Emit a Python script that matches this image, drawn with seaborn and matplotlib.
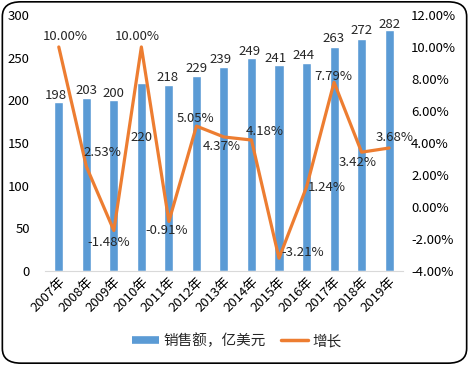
import numpy as np
import pandas as pd
import matplotlib.pyplot as plt
import seaborn as sns
from matplotlib.patches import FancyBboxPatch
from matplotlib.lines import Line2D

# data
years = ['2007年', '2008年', '2009年', '2010年', '2011年', '2012年', '2013年',
         '2014年', '2015年', '2016年', '2017年', '2018年', '2019年']
sales = [198, 203, 200, 220, 218, 229, 239, 249, 241, 244, 263, 272, 282]
growth = [10.00, 2.53, -1.48, 10.00, -0.91, 5.05, 4.37, 4.18, -3.21, 1.24, 7.79, 3.42, 3.68]

# label nudges in pixels (dx, dy) to mimic the original placement
bar_off = [(-3, 6), (0, 7), (0, 7), (0, -54), (-1, 7), (0, 7), (-3, 7),
           (-2, 7), (-3, 7), (-3, 7), (-1, 8), (0, 8), (0, 6)]
line_off = [(6, 10), (16, 14), (-5, -12), (-4, 10), (-2, -9), (-1, 8), (-2, -10),
            (13, 9), (24, 6), (20, 0), (-1, 6), (-4, -10), (6, 11)]

blue = '#5B9BD5'
orange = '#ED7D31'
fs = 9.5

sns.set_style('white')
plt.rcParams['font.family'] = ['Noto Sans CJK SC', 'DejaVu Sans']

df = pd.DataFrame({'year': years, 'sales': sales, 'growth': growth})

fig = plt.figure(figsize=(4.69, 3.65), dpi=100)
ax = fig.add_axes([0.096, 0.258, 0.763, 0.701])

sns.barplot(data=df, x='year', y='sales', color=blue, width=0.33,
            saturation=1, ax=ax)
ax.set_ylim(0, 300)
ax.set_yticks(range(0, 301, 50))
ax.set_xlim(-0.5, 12.5)
ax.set_xlabel('')
ax.set_ylabel('')

ax2 = ax.twinx()
sns.lineplot(data=df, x='year', y='growth', color=orange, linewidth=2.3,
             sort=False, ax=ax2)
ax2.set_ylim(-4, 12)
ax2.set_yticks(range(-4, 13, 2))
ax2.set_yticklabels(['%.2f%%' % v for v in range(-4, 13, 2)])
ax2.set_ylabel('')

for a in (ax, ax2):
    for s in a.spines.values():
        s.set_visible(False)
    a.tick_params(length=0, labelsize=fs, colors='black')
ax.spines['bottom'].set_visible(True)
ax.spines['bottom'].set_color('#d9d9d9')
ax.tick_params(axis='y', pad=11)
ax.tick_params(axis='x', pad=3)
ax2.tick_params(axis='y', pad=6)
plt.setp(ax.get_xticklabels(), rotation=45, ha='right', rotation_mode='anchor')

for i, v in enumerate(sales):
    ax.annotate(str(v), (i, v), xytext=bar_off[i], textcoords='offset pixels',
                ha='center', va='center', fontsize=fs)
for i, v in enumerate(growth):
    ax2.annotate('%.2f%%' % v, (i, v), xytext=line_off[i], textcoords='offset pixels',
                 ha='center', va='center', fontsize=fs)

handles = [Line2D([0], [0], color=blue, linewidth=5.5, solid_capstyle='butt'),
           Line2D([0], [0], color=orange, linewidth=2.5)]
fig.legend(handles, ['销售额，亿美元', '增长'], loc='lower center',
           bbox_to_anchor=(0.505, 0.01), ncol=2, frameon=False, fontsize=10.5,
           handlelength=1.9, columnspacing=1.0, handletextpad=0.3)

border = FancyBboxPatch((0.005, 0.005), 0.99, 0.99,
                        boxstyle='round,pad=0,rounding_size=0.04',
                        transform=fig.transFigure, fill=False,
                        edgecolor='black', linewidth=1.2)
fig.patches.append(border)

fig.savefig('out.png', dpi=100)
